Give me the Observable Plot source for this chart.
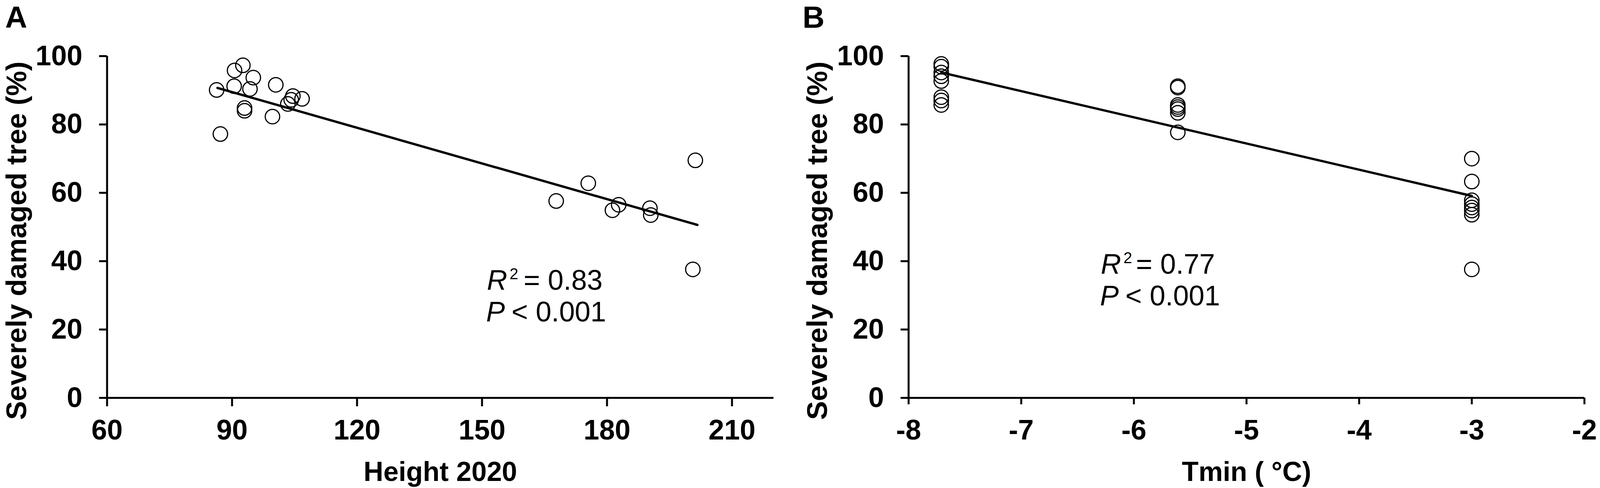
<!DOCTYPE html>
<html>
<head>
<meta charset="utf-8">
<script src="https://cdn.jsdelivr.net/npm/d3@7"></script>
<script src="https://cdn.jsdelivr.net/npm/@observablehq/plot@0.6"></script>
<style>
  html, body { margin: 0; padding: 0; background: #fff; overflow: hidden; }
  #wrap { display: flex; flex-wrap: nowrap; height: 1248px; overflow: hidden; }
  #wrap > * { flex: none; display: block; max-width: none !important; }
</style>
</head>
<body>
<div id="wrap"></div>
<script>
// ---------- Data ----------
// Panel A: Height 2020 vs severely damaged trees (%)
const heightA = [86.3, 87.2, 90.6, 92.6, 90.5, 93.0, 93.0, 95.1, 94.3, 100.5, 99.7, 103.4, 104.2, 104.6, 106.8,
                 167.8, 175.5, 181.3, 182.8, 190.5, 190.3, 201.2, 200.6];
const damageA = [90.1, 77.2, 95.8, 97.3, 91.2, 84.8, 84.0, 93.7, 90.4, 91.6, 82.3, 86.0, 87.2, 88.3, 87.5,
                 57.6, 62.8, 54.9, 56.5, 53.5, 55.5, 69.5, 37.6];
// Fitted regression line, panel A (end points)
const fitAx = [86.5, 201.7];
const fitAy = [90.7, 50.6];

// Panel B: Tmin vs severely damaged trees (%)
const tminB = [-7.71, -7.71, -7.71, -7.71, -7.71, -7.71, -7.71, -7.71,
               -5.61, -5.61, -5.61, -5.61, -5.61, -5.61, -5.61,
               -3.0, -3.0, -3.0, -3.0, -3.0, -3.0, -3.0, -3.0];
const damageB = [97.7, 96.9, 95.2, 94.1, 92.7, 88.0, 87.0, 85.7,
                 91.2, 90.8, 85.7, 85.1, 84.5, 83.4, 77.7,
                 70.0, 63.3, 57.8, 56.7, 55.7, 54.8, 53.6, 37.6];
const fitBx = [-7.71, -3.0];
const fitBy = [95.2, 59.1];

// Axis ticks and labels
const yTicks = [0, 20, 40, 60, 80, 100];
const xTicksA = [60, 90, 120, 150, 180, 210];
const xTicksB = [-8, -7, -6, -5, -4, -3, -2];
const yTitle = "Severely damaged tree (%)";
const xTitleA = "Height 2020";
const xTitleB = "Tmin ( °C)";
const statsA = {r2: "= 0.83", p: "< 0.001"};
const statsB = {r2: "= 0.77", p: "< 0.001"};

// ---------- Drawing ----------
const FONT = "'Liberation Sans', Arial, Helvetica, sans-serif";
const MT = 143, MB = 231, H = 1248;
// the layout is designed for a 4162px-wide page; fit it to the real viewport width
const VW = Math.min(4162, window.innerWidth || 4162);
const k = VW / 4162;

function panel(o) {
  const pts = o.xs.map((x, i) => ({x, y: o.ys[i]}));
  const fit = o.fx.map((x, i) => ({x, y: o.fy[i]}));
  const L = o.marginLeft;
  return Plot.plot({
    width: o.width,
    height: H,
    marginLeft: L * k,
    marginRight: o.marginRight * k,
    marginTop: MT,
    marginBottom: MB,
    style: {fontFamily: FONT, background: "white", color: "black", overflow: "visible"},
    x: {domain: o.xDomain, axis: null},
    y: {domain: [0, 100], axis: null},
    marks: [
      Plot.axisX(o.xTicks, {anchor: "bottom", tickSize: o.xTickSize, tickPadding: 55 - o.xTickSize, strokeWidth: 5,
        fontSize: 72, fontWeight: "bold", fill: "black", tickFormat: d => String(d), label: null}),
      Plot.axisY(yTicks, {anchor: "left", tickSize: 20, tickPadding: 43, strokeWidth: 5,
        fontSize: 72, fontWeight: "bold", fill: "black", tickFormat: d => String(d), label: null}),
      Plot.ruleY([0], {stroke: "black", strokeWidth: 5}),
      Plot.ruleX([o.xDomain[0]], {stroke: "black", strokeWidth: 5}),
      Plot.line(fit, {x: "x", y: "y", stroke: "black", strokeWidth: 6}),
      Plot.dot(pts, {x: "x", y: "y", r: 18.5, stroke: "black", strokeWidth: 3, fill: "none"}),
      // y title
      Plot.text([yTitle], {frameAnchor: "left", textAnchor: "middle", lineAnchor: "middle", rotate: -90,
        dx: (o.yTitleX - L) * k, dy: 35, fontSize: 72, fontWeight: "bold", fill: "black"}),
      // x title
      Plot.text([o.xTitle], {frameAnchor: "bottom", textAnchor: "middle", lineAnchor: "bottom",
        dy: 212, fontSize: 70, fontWeight: "bold", fill: "black"}),
      // panel letter
      Plot.text([o.letter], {frameAnchor: "top-left", textAnchor: "start", lineAnchor: "bottom",
        dx: (o.letterX - L) * k, dy: 70 - MT, fontSize: 78, fontWeight: "bold", fill: "black"}),
      // statistics
      Plot.text(["R"], {frameAnchor: "top-left", textAnchor: "start", lineAnchor: "bottom",
        dx: (o.sx - L) * k, dy: o.sy - MT, fontSize: 72, fontStyle: "italic", fill: "black"}),
      Plot.text(["2"], {frameAnchor: "top-left", textAnchor: "start", lineAnchor: "bottom",
        dx: (o.sx - L) * k + 58, dy: o.sy - MT - 27, fontSize: 40, fill: "black"}),
      Plot.text([o.stats.r2], {frameAnchor: "top-left", textAnchor: "start", lineAnchor: "bottom",
        dx: (o.sx - L) * k + o.eqOff, dy: o.sy - MT, fontSize: 72, fill: "black"}),
      Plot.text(["P"], {frameAnchor: "top-left", textAnchor: "start", lineAnchor: "bottom",
        dx: (o.sx - L) * k - 2, dy: o.sy - MT + 81, fontSize: 72, fontStyle: "italic", fill: "black"}),
      Plot.text([o.stats.p], {frameAnchor: "top-left", textAnchor: "start", lineAnchor: "bottom",
        dx: (o.sx - L) * k + 63, dy: o.sy - MT + 81, fontSize: 72, fill: "black"})
    ]
  });
}

const wA = Math.round(2080 * k);
const wB = VW - wA;
const wrap = document.getElementById("wrap");
wrap.style.width = VW + "px";
wrap.append(panel({
  width: wA, marginLeft: 278, marginRight: 68, xTickSize: 22,
  xDomain: [60, 220], xTicks: xTicksA, xs: heightA, ys: damageA, fx: fitAx, fy: fitAy,
  xTitle: xTitleA, letter: "A", letterX: 13, yTitleX: 44,
  sx: 1266, sy: 740, eqOff: 94, stats: statsA
}));
wrap.append(panel({
  width: wB, marginLeft: 283, marginRight: 41, xTickSize: 17,
  xDomain: [-8, -2], xTicks: xTicksB, xs: tminB, ys: damageB, fx: fitBx, fy: fitBy,
  xTitle: xTitleB, letter: "B", letterX: 7, yTitleX: 47,
  sx: 783, sy: 699, eqOff: 90, stats: statsB
}));
</script>
</body>
</html>
